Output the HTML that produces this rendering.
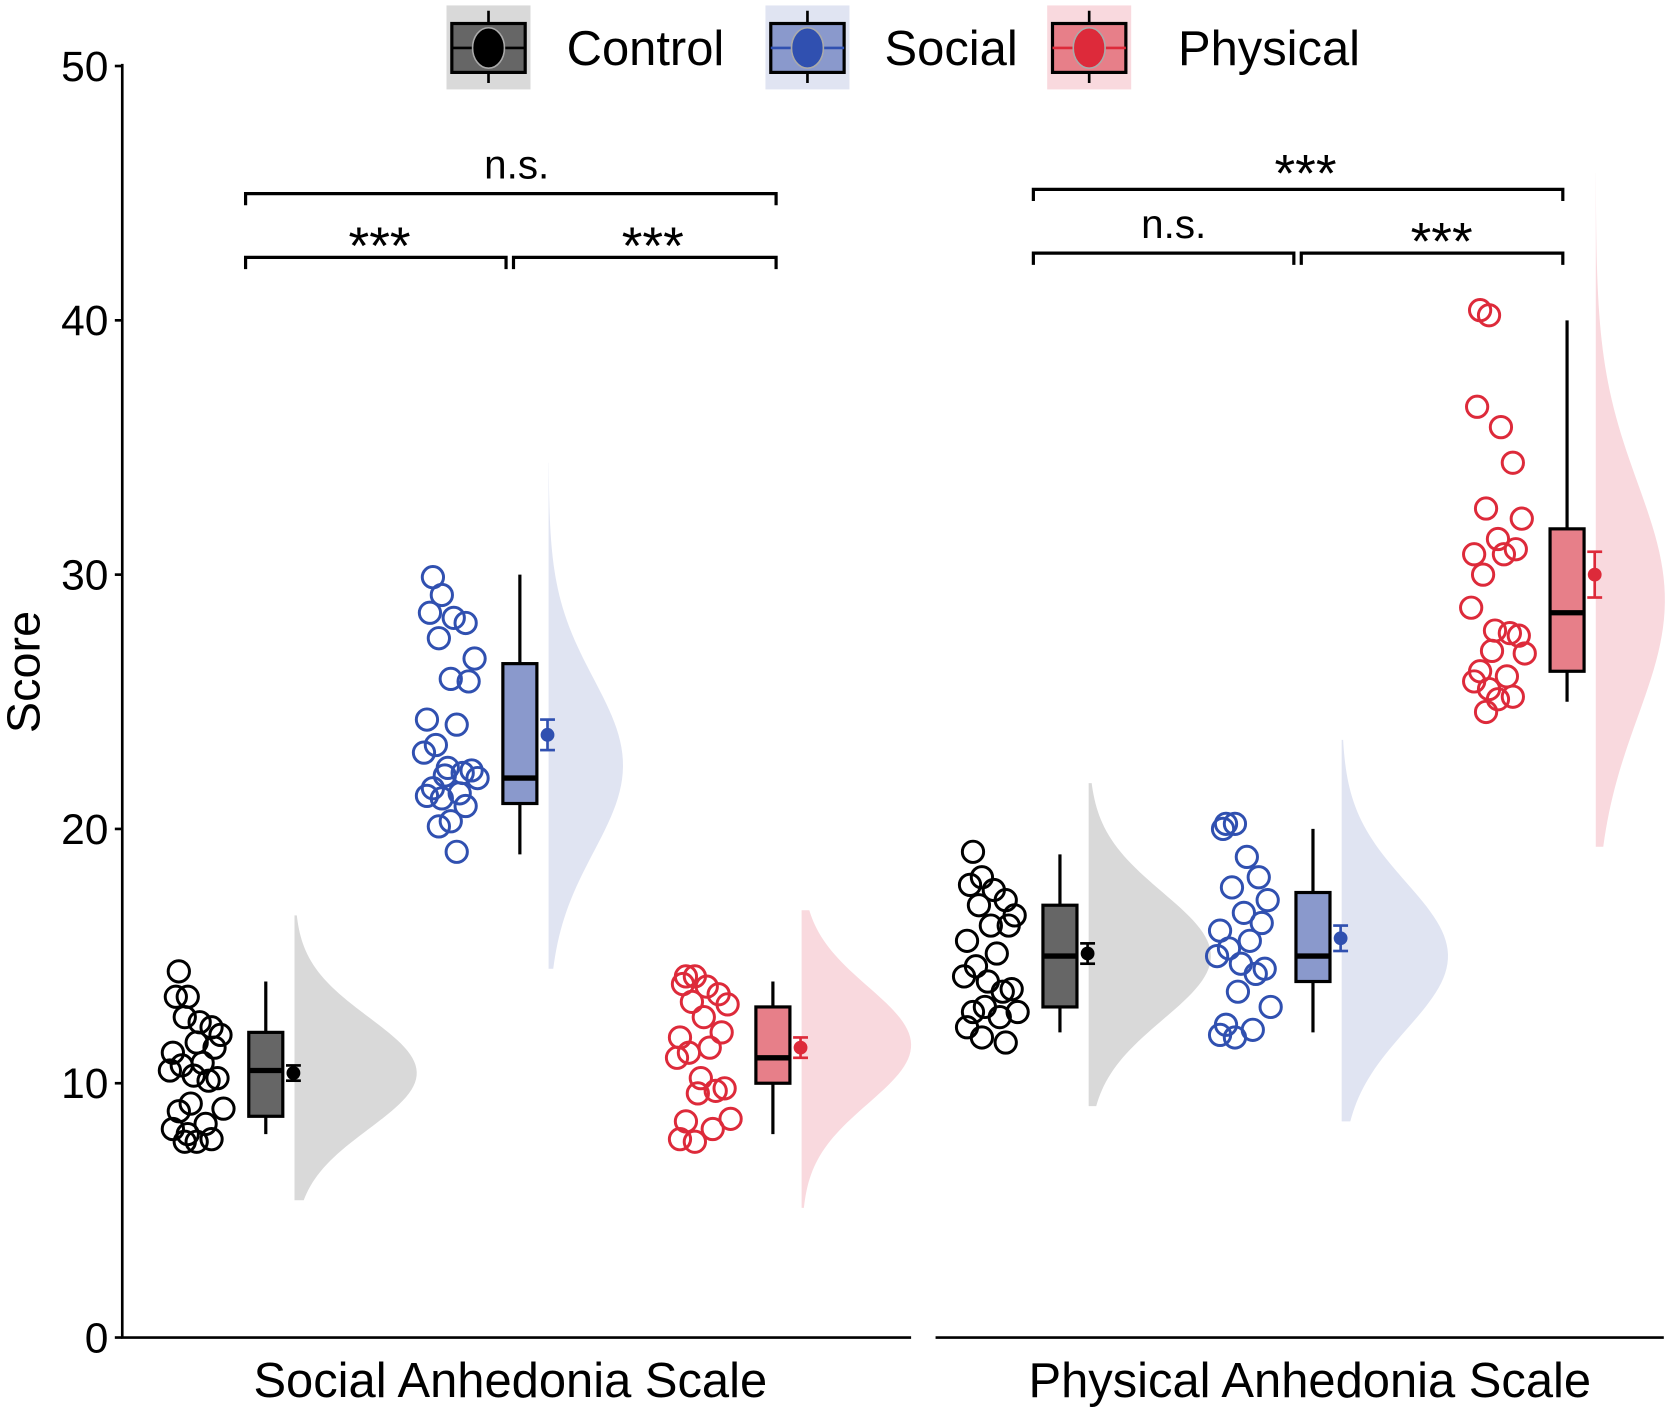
<!DOCTYPE html>
<html><head><meta charset="utf-8"><style>
html,body{margin:0;padding:0;background:#fff}
svg{display:block}
text{font-family:"Liberation Sans",Arial,sans-serif}
</style></head><body>
<svg id="chart" width="1667" height="1411" viewBox="0 0 1568 1327" xmlns="http://www.w3.org/2000/svg">
<g id="violins"></g>
<g id="boxes"></g>
<g id="points"></g>
<g id="axes"></g>
<g id="sig"></g>
<g id="legend"></g>
</svg>
<script>
const groups = ['SAS-Control','SAS-Social','SAS-Physical','PAS-Control','PAS-Social','PAS-Physical'];
const colorKey = ['control','social','physical','control','social','physical'];
const pts0 = [14.4,13.4,13.4,12.4,12.2,12.6,11.9,11.6,11.4,11.2,10.8,10.7,10.5,10.3,10.2,10.1,9.2,9.0,8.9,8.4,8.2,8.0,7.8,7.7,7.7];
const pts1 = [29.9,29.2,28.5,28.3,28.1,27.5,26.7,25.9,25.8,24.3,24.1,23.3,23.0,22.4,22.3,22.2,22.1,22.0,21.6,21.4,21.3,21.2,20.9,20.3,20.1,19.1];
const pts2 = [14.2,14.2,13.9,13.8,13.5,13.2,13.1,12.6,12.0,11.8,11.4,11.2,11.0,10.2,9.8,9.7,9.6,8.6,8.5,8.2,7.8,7.7];
const pts3 = [19.1,18.1,17.8,17.6,17.2,17.0,16.6,16.2,16.2,15.6,15.1,14.6,14.2,14.0,13.7,13.6,13.0,12.8,12.8,12.6,12.2,11.8,11.6];
const pts4 = [20.2,20.2,20.0,18.9,18.1,17.7,17.2,16.7,16.3,16.0,15.6,15.3,15.0,14.7,14.5,14.3,13.6,13.0,12.3,12.1,11.9,11.8];
const pts5 = [40.4,40.2,36.6,35.8,34.4,32.6,32.2,31.4,31.0,30.8,30.8,30.0,28.7,27.8,27.6,27.7,27.0,26.9,26.2,26.0,25.8,25.5,25.2,25.1,24.6];
const allPts = [pts0,pts1,pts2,pts3,pts4,pts5];
const whiskerLo = [8,19,8,12,12,25];
const whiskerHi = [14,30,14,19,20,40];
const q1 = [8.7,21,10,13,14,26.2];
const q3 = [12,26.5,13,17,17.5,31.8];
const median = [10.5,22,11,15,15,28.5];
const mean = [10.4,23.7,11.4,15.1,15.7,30];
const se = [0.3,0.6,0.4,0.4,0.5,0.9];
const densMin = [5.4,14.5,5.1,9.1,8.5,19.3];
const densMax = [16.6,34.4,16.8,21.8,23.5,45.8];
const densPeak = [10.4,22.5,11.5,15,15,29];
const densSd = [2.2,3.4,2.3,2.5,2.9,4.6];
const yTicks = [0,10,20,30,40,50];
const jitter = [0.2,0.35,0.15,0.55,0.75,0.3,0.9,0.5,0.8,0.1,0.6,0.25,0.05,0.45,0.85,0.7,0.4,0.95,0.2,0.65,0.1,0.35,0.75,0.5,0.3,0.6];

const centers = [250,489,727,997,1235,1474];
const vWidth = [115,70,103,115,100,65];
const col = {
  control:{box:'#666666',pt:'#000000',vio:'#d9d9d9'},
  social:{box:'#8a99cc',pt:'#3050b0',vio:'#e0e4f2'},
  physical:{box:'#e77f89',pt:'#dd2a3a',vio:'#f9d9de'}
};
const NS='http://www.w3.org/2000/svg';
const y = v => 1258 - v*23.92;
function mk(tag, attrs, parent){const e=document.createElementNS(NS,tag);for(const k in attrs)e.setAttribute(k,attrs[k]);parent.appendChild(e);return e;}
const G = id => document.getElementById(id);

groups.forEach((g,i)=>{
  const c = col[colorKey[i]], cx = centers[i];
  const x0 = cx+27;
  let d = `M${x0},${y(densMin[i])}`;
  for(let k=0;k<=80;k++){
    const v = densMin[i] + (densMax[i]-densMin[i])*k/80;
    const z = (v-densPeak[i])/densSd[i];
    d += ` L${x0+vWidth[i]*Math.exp(-0.5*z*z)},${y(v)}`;
  }
  d += ` L${x0},${y(densMax[i])} Z`;
  const vp = mk('path',{d,fill:c.vio},G('violins'));
  
  
  const bg = mk('g',{},G('boxes'));
  
  
  mk('line',{x1:cx,x2:cx,y1:y(whiskerLo[i]),y2:y(whiskerHi[i]),stroke:'#000','stroke-width':3},bg);
  mk('rect',{x:cx-16,y:y(q3[i]),width:32,height:y(q1[i])-y(q3[i]),fill:c.box,stroke:'#000','stroke-width':3},bg);
  mk('line',{x1:cx-16,x2:cx+16,y1:y(median[i]),y2:y(median[i]),stroke:'#000','stroke-width':5},bg);
  const mx = cx+26;
  mk('line',{x1:mx,x2:mx,y1:y(mean[i]-se[i]),y2:y(mean[i]+se[i]),stroke:c.pt,'stroke-width':2.5},bg);
  mk('line',{x1:mx-7,x2:mx+7,y1:y(mean[i]-se[i]),y2:y(mean[i]-se[i]),stroke:c.pt,'stroke-width':2.5},bg);
  mk('line',{x1:mx-7,x2:mx+7,y1:y(mean[i]+se[i]),y2:y(mean[i]+se[i]),stroke:c.pt,'stroke-width':2.5},bg);
  mk('circle',{cx:mx,cy:y(mean[i]),r:6.5,fill:c.pt},bg);
  allPts[i].forEach((v,j)=>{
    const p = mk('circle',{cx:cx-93+jitter[j%jitter.length]*56,cy:y(v),r:10,fill:'none',stroke:c.pt,'stroke-width':2.8},G('points'));
    
    
  });
});

const ax = G('axes');
mk('line',{x1:115,x2:115,y1:60,y2:1258,stroke:'#000','stroke-width':2.5},ax);
mk('line',{x1:114,x2:857,y1:1258,y2:1258,stroke:'#000','stroke-width':2.5},ax);
mk('line',{x1:880,x2:1565,y1:1258,y2:1258,stroke:'#000','stroke-width':2.5},ax);
yTicks.forEach(t=>{
  mk('line',{x1:108,x2:115,y1:y(t),y2:y(t),stroke:'#000','stroke-width':2.5},ax);
  const tx = mk('text',{x:102,y:y(t)+14,'text-anchor':'end','font-size':40},ax);
  tx.textContent = t;
  
  
});
</script>
<script>
(function(){
const NS='http://www.w3.org/2000/svg';
function mk(tag, attrs, parent){const e=document.createElementNS(NS,tag);for(const k in attrs)e.setAttribute(k,attrs[k]);parent.appendChild(e);return e;}
const ax=document.getElementById('axes');
let t=mk('text',{x:0,y:0,'text-anchor':'middle','font-size':44,transform:'translate(37,632) rotate(-90)'},ax);
t.textContent='Score';


t=mk('text',{x:480,y:1314,'text-anchor':'middle','font-size':46},ax);
t.textContent='Social Anhedonia Scale';


t=mk('text',{x:1232,y:1314,'text-anchor':'middle','font-size':46},ax);
t.textContent='Physical Anhedonia Scale';



const sig=document.getElementById('sig');
const br=[[231,730,182,'n.s.',486],[231,476,242,'***',357],[483,730,242,'***',614],[972,1470,178,'***',1228],[972,1217,238,'n.s.',1104],[1224,1470,238,'***',1356]];
br.forEach(b=>{
  const g=mk('g',{},sig);
  
  
  mk('path',{d:`M${b[0]},${b[2]+11} V${b[2]} H${b[1]} V${b[2]+11}`,fill:'none',stroke:'#000','stroke-width':3},g);
  const s=b[3]==='***';
  const tt=mk('text',{x:b[4],y:s?b[2]+(b[2]<200?2:6):b[2]-14,'text-anchor':'middle','font-size':s?50:38},g);
  tt.textContent=b[3];
})

const lg=document.getElementById('legend');
const items=[[420,'#d9d9d9','#666666','#000000','Control',533],[720,'#e0e4f2','#8a99cc','#3050b0','Social',832],[985,'#f9d9de','#e77f89','#dd2a3a','Physical',1108]];
items.forEach(it=>{
  const g=mk('g',{},lg);
  
  
  const x=it[0];
  mk('rect',{x:x,y:5,width:79,height:79,fill:it[1]},g);
  mk('line',{x1:x+39.5,x2:x+39.5,y1:10,y2:78,stroke:'#000','stroke-width':2.5},g);
  mk('rect',{x:x+5,y:22,width:69,height:46,fill:it[2],stroke:'#000','stroke-width':3},g);
  mk('line',{x1:x+5,x2:x+74,y1:45,y2:45,stroke:it[3],'stroke-width':2.5},g);
  mk('ellipse',{cx:x+39.5,cy:45,rx:15,ry:19,fill:it[3],stroke:'#aaa','stroke-width':1.5},g);
  const tt=mk('text',{x:it[5],y:61,'font-size':46},g);
  tt.textContent=it[4];
});
})();
</script>
</body></html>
